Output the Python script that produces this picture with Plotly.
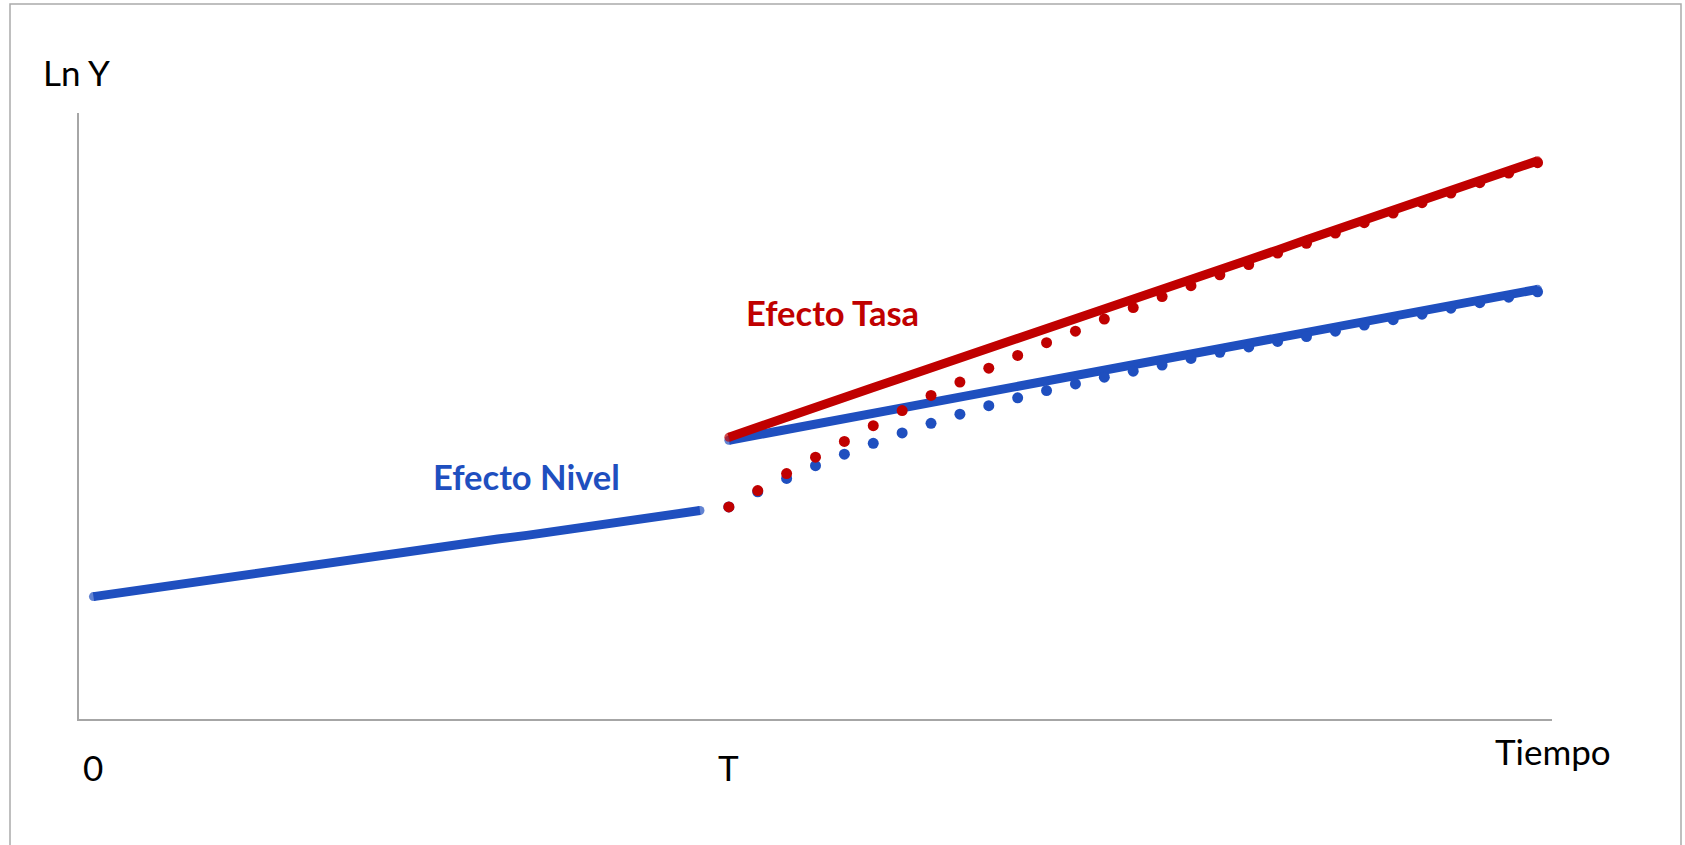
import plotly.graph_objects as go

# Categories (time periods)
periods = list(range(0, 51))
T_index = 22

# Series values (arbitrary Ln Y units)
nivel_antes = [2.02, 2.09, 2.15, 2.22, 2.29, 2.36, 2.42, 2.49, 2.56, 2.63, 2.70,
               2.76, 2.83, 2.90, 2.97, 3.03, 3.10, 3.17, 3.24, 3.31, 3.37, 3.44]
nivel_despues = [4.60, 4.69, 4.78, 4.87, 4.96, 5.04, 5.13, 5.22, 5.31, 5.40, 5.49,
                 5.58, 5.67, 5.76, 5.84, 5.93, 6.02, 6.11, 6.20, 6.29, 6.38, 6.47,
                 6.56, 6.64, 6.73, 6.82, 6.91, 7.00, 7.09]
tasa_despues = [4.65, 4.82, 4.98, 5.14, 5.30, 5.47, 5.63, 5.79, 5.95, 6.12, 6.28,
                6.44, 6.61, 6.77, 6.93, 7.09, 7.26, 7.42, 7.58, 7.74, 7.91, 8.07,
                8.23, 8.40, 8.56, 8.72, 8.88, 9.05, 9.21]
nivel_transicion = [3.50, 3.75, 3.97, 4.18, 4.37, 4.55, 4.72, 4.88, 5.03, 5.17, 5.30,
                    5.42, 5.53, 5.64, 5.74, 5.84, 5.95, 6.05, 6.14, 6.23, 6.31, 6.40,
                    6.50, 6.59, 6.68, 6.78, 6.87, 6.96, 7.05]
tasa_transicion = [3.50, 3.77, 4.05, 4.32, 4.58, 4.84, 5.09, 5.34, 5.56, 5.79, 6.00,
                   6.21, 6.40, 6.60, 6.79, 6.97, 7.15, 7.33, 7.50, 7.69, 7.85, 8.02,
                   8.19, 8.35, 8.52, 8.68, 8.85, 9.01, 9.18]

tick_labels = {"0": 0, "T": T_index}

BLUE = "#1F4FBF"
RED = "#C00000"
FONT = "Lato"

x_before = periods[:len(nivel_antes)]
x_after = periods[T_index:T_index + len(nivel_despues)]


def end_sizes(n, s):
    return [s] + [0] * (n - 2) + [s]


def solid(x, y, color):
    return go.Scatter(x=x, y=y, mode="lines+markers",
                      line=dict(color=color, width=9),
                      marker=dict(color=color, size=end_sizes(len(y), 9), line=dict(width=0)),
                      hoverinfo="skip", showlegend=False)


def dots(x, y, color):
    return go.Scatter(x=x, y=y, mode="markers",
                      marker=dict(color=color, size=11, line=dict(width=0)),
                      hoverinfo="skip", showlegend=False)


fig = go.Figure()
fig.add_trace(solid(x_before, nivel_antes, BLUE))
fig.add_trace(solid(x_after, nivel_despues, BLUE))
fig.add_trace(dots(x_after, nivel_transicion, BLUE))
fig.add_trace(solid(x_after, tasa_despues, RED))
fig.add_trace(dots(x_after, tasa_transicion, RED))

L, R, Tm, B = 79, 133, 113, 126
W, H = 1685, 845
pw, ph = W - L - R, H - Tm - B


def px(xp):
    return (xp - L) / pw


def py(yp):
    return (H - B - yp) / ph


annotations = []
for txt, cat in tick_labels.items():
    annotations.append(dict(x=cat, xref="x", y=py(767), yref="paper", text=txt,
                            showarrow=False, xanchor="center", yanchor="middle",
                            font=dict(family=FONT, size=35, color="black")))
annotations += [
    dict(x=px(76), y=py(72), xref="paper", yref="paper", text="Ln Y", showarrow=False,
         xanchor="center", yanchor="middle", font=dict(family=FONT, size=35, color="black")),
    dict(x=px(1553), y=py(751), xref="paper", yref="paper", text="Tiempo", showarrow=False,
         xanchor="center", yanchor="middle", font=dict(family=FONT, size=35, color="black")),
    dict(x=px(526), y=py(476), xref="paper", yref="paper", text="<b>Efecto Nivel</b>",
         showarrow=False, xanchor="center", yanchor="middle",
         font=dict(family=FONT, size=34.5, color=BLUE)),
    dict(x=px(833), y=py(312), xref="paper", yref="paper", text="<b>Efecto Tasa</b>",
         showarrow=False, xanchor="center", yanchor="middle",
         font=dict(family=FONT, size=34.5, color=RED)),
]

fig.update_layout(
    width=W, height=H,
    margin=dict(l=L, r=R, t=Tm, b=B, pad=0),
    paper_bgcolor="white", plot_bgcolor="white",
    xaxis=dict(range=[-0.5, 50.5], showgrid=False, zeroline=False, showticklabels=False,
               ticks="", showline=True, linecolor="#A6A6A6", linewidth=1.5, fixedrange=True),
    yaxis=dict(range=[0, 10], showgrid=False, zeroline=False, showticklabels=False,
               ticks="", showline=True, linecolor="#A6A6A6", linewidth=1.5, fixedrange=True),
    annotations=annotations,
    shapes=[dict(type="rect", xref="paper", yref="paper",
                 x0=px(10), x1=px(1681), y0=py(4), y1=py(860),
                 line=dict(color="#AAAAAA", width=1.5), fillcolor="rgba(0,0,0,0)", layer="below")],
)

fig.write_html("out.html", config={"displayModeBar": False},
               post_script="document.body.style.margin='0';document.body.style.overflow='hidden';")
